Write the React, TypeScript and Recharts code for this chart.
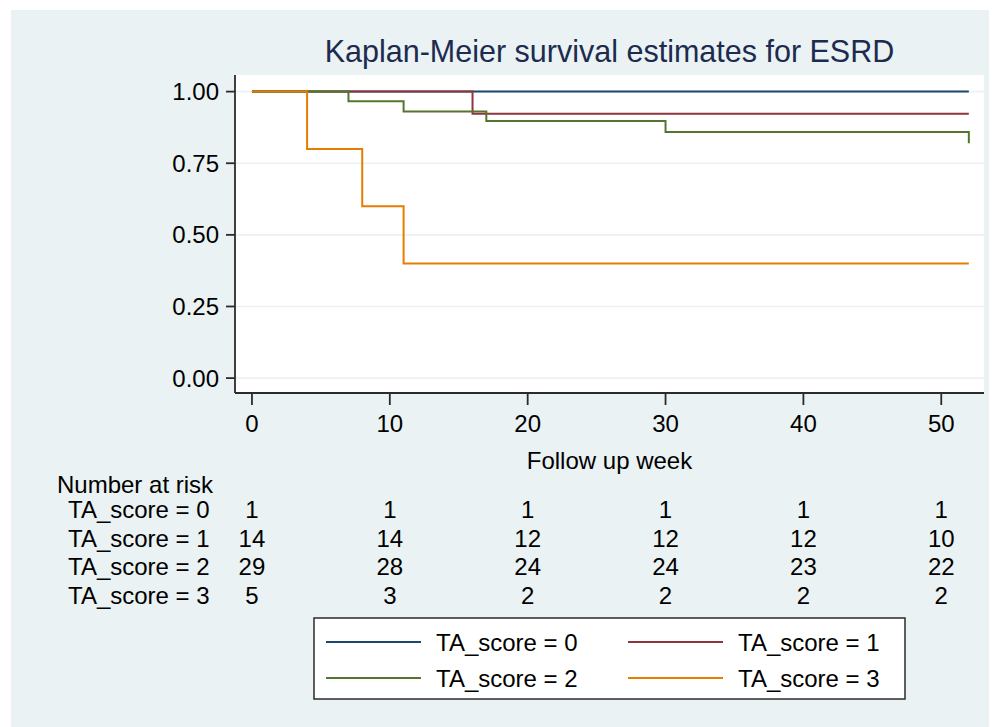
import React from 'react';
import { LineChart, Line, XAxis, YAxis, CartesianGrid } from 'recharts';

// ---- Data ----
const groupNames = ['TA_score = 0', 'TA_score = 1', 'TA_score = 2', 'TA_score = 3'];
const groupColors = ['#1a476f', '#90353b', '#55752f', '#e37e00'];

const weeks0 = [0, 52];
const surv0 = [1, 1];
const weeks1 = [0, 16, 52];
const surv1 = [1, 0.923, 0.923];
const weeks2 = [0, 7, 11, 17, 30, 52];
const surv2 = [1, 0.966, 0.931, 0.897, 0.859, 0.82];
const weeks3 = [0, 4, 8, 11, 52];
const surv3 = [1, 0.8, 0.6, 0.4, 0.4];

const xTicks = [0, 10, 20, 30, 40, 50];
const yTicks = [0, 0.25, 0.5, 0.75, 1];

const riskTimes = [0, 10, 20, 30, 40, 50];
const risk0 = [1, 1, 1, 1, 1, 1];
const risk1 = [14, 14, 12, 12, 12, 10];
const risk2 = [29, 28, 24, 24, 23, 22];
const risk3 = [5, 3, 2, 2, 2, 2];
const riskRows = [risk0, risk1, risk2, risk3];

const toSeries = (w: number[], s: number[]) => w.map((t, i) => ({ t, s: s[i] }));
const series = [
  toSeries(weeks0, surv0),
  toSeries(weeks1, surv1),
  toSeries(weeks2, surv2),
  toSeries(weeks3, surv3),
];

// ---- Layout ----
const W = 989;
const H = 719;
const FONT = '"Liberation Sans", Arial, sans-serif';
const FS = 24;
const PLOT_LEFT = 227;
const PLOT_RIGHT_MARGIN = 13;
const PLOT_TOP = 67;
const XAXIS_H = 334;
const plotCenterX = PLOT_LEFT + (W - PLOT_LEFT - PLOT_RIGHT_MARGIN) / 2;
const plotBottom = H - XAXIS_H;

const XTick = (props: any) => {
  const { x, y, payload, index } = props;
  const t = payload.value;
  const col = riskTimes.indexOf(t);
  const rowOffsets = [112.6, 141.6, 169.6, 198.6];
  return (
    <g fontFamily={FONT} fontSize={FS} fill="#000">
      <text x={x} y={y + 26.6} textAnchor="middle">{t}</text>
      {col >= 0 &&
        riskRows.map((row, r) => (
          <text key={r} x={x} y={y + rowOffsets[r]} textAnchor="middle">
            {row[col]}
          </text>
        ))}
      {index === 0 && (
        <g>
          <text x={49} y={y + 87.6} textAnchor="start">Number at risk</text>
          {groupNames.map((g, r) => (
            <text key={g} x={60} y={y + rowOffsets[r]} textAnchor="start">
              {g}
            </text>
          ))}
        </g>
      )}
    </g>
  );
};

const legendBox = { x: 306, y: 610, w: 591, h: 81 };

export default function App() {
  return (
    <div style={{ position: 'relative', width: W, height: H, background: '#fff' }}>
      <div
        style={{
          position: 'absolute',
          left: 3,
          top: 2,
          width: W - 3,
          height: H - 2,
          background: '#eaf2f3',
        }}
      />
      <div style={{ position: 'absolute', left: 0, top: 0 }}>
        <LineChart
          width={W}
          height={H}
          margin={{ top: PLOT_TOP, right: PLOT_RIGHT_MARGIN, left: 0, bottom: 0 }}
        >
          <CartesianGrid
            vertical={false}
            horizontal={true}
            fill="#ffffff"
            stroke="#eaf2f3"
            strokeWidth={1.6}
            horizontalValues={yTicks}
          />
          <XAxis
            dataKey="t"
            type="number"
            domain={[-1.23, 53.1]}
            ticks={xTicks}
            allowDataOverflow
            height={XAXIS_H}
            tickSize={12}
            tickMargin={0}
            axisLine={{ stroke: '#2b2b2b', strokeWidth: 1.8 }}
            tickLine={{ stroke: '#2b2b2b', strokeWidth: 1.8 }}
            tick={<XTick />}
            interval={0}
          />
          <YAxis
            type="number"
            domain={[-0.052, 1.058]}
            ticks={yTicks}
            allowDataOverflow
            width={PLOT_LEFT}
            tickSize={9}
            tickMargin={7}
            tickFormatter={(v: number) => v.toFixed(2)}
            axisLine={{ stroke: '#2b2b2b', strokeWidth: 1.8 }}
            tickLine={{ stroke: '#2b2b2b', strokeWidth: 1.8 }}
            tick={{ fontSize: FS, fill: '#000', fontFamily: FONT }}
            interval={0}
          />
          {series.map((d, i) => (
            <Line
              key={groupNames[i]}
              data={d}
              dataKey="s"
              name={groupNames[i]}
              type="stepAfter"
              stroke={groupColors[i]}
              strokeWidth={2}
              dot={false}
              activeDot={false}
              isAnimationActive={false}
            />
          ))}
        </LineChart>
      </div>
      <svg
        width={W}
        height={H}
        style={{ position: 'absolute', left: 0, top: 0, pointerEvents: 'none' }}
        fontFamily={FONT}
      >
        <text x={plotCenterX} y={54} textAnchor="middle" fontSize={30.5} fill="#1c2b4f">
          Kaplan-Meier survival estimates for ESRD
        </text>
        <text x={plotCenterX} y={plotBottom + 75.6} textAnchor="middle" fontSize={FS} fill="#000">
          Follow up week
        </text>
        <rect
          x={legendBox.x}
          y={legendBox.y}
          width={legendBox.w}
          height={legendBox.h}
          fill="#fff"
          stroke="#2b2b2b"
          strokeWidth={1.5}
        />
        {groupNames.map((g, i) => {
          const col = i % 2;
          const row = Math.floor(i / 2);
          const lx = col === 0 ? 318 : 620;
          const cy = row === 0 ? 634 : 670;
          return (
            <g key={g}>
              <line x1={lx} x2={lx + 95} y1={cy} y2={cy} stroke={groupColors[i]} strokeWidth={2} />
              <text x={lx + 110} y={cy + 8.6} fontSize={FS} fill="#000">
                {g}
              </text>
            </g>
          );
        })}
      </svg>
    </div>
  );
}
